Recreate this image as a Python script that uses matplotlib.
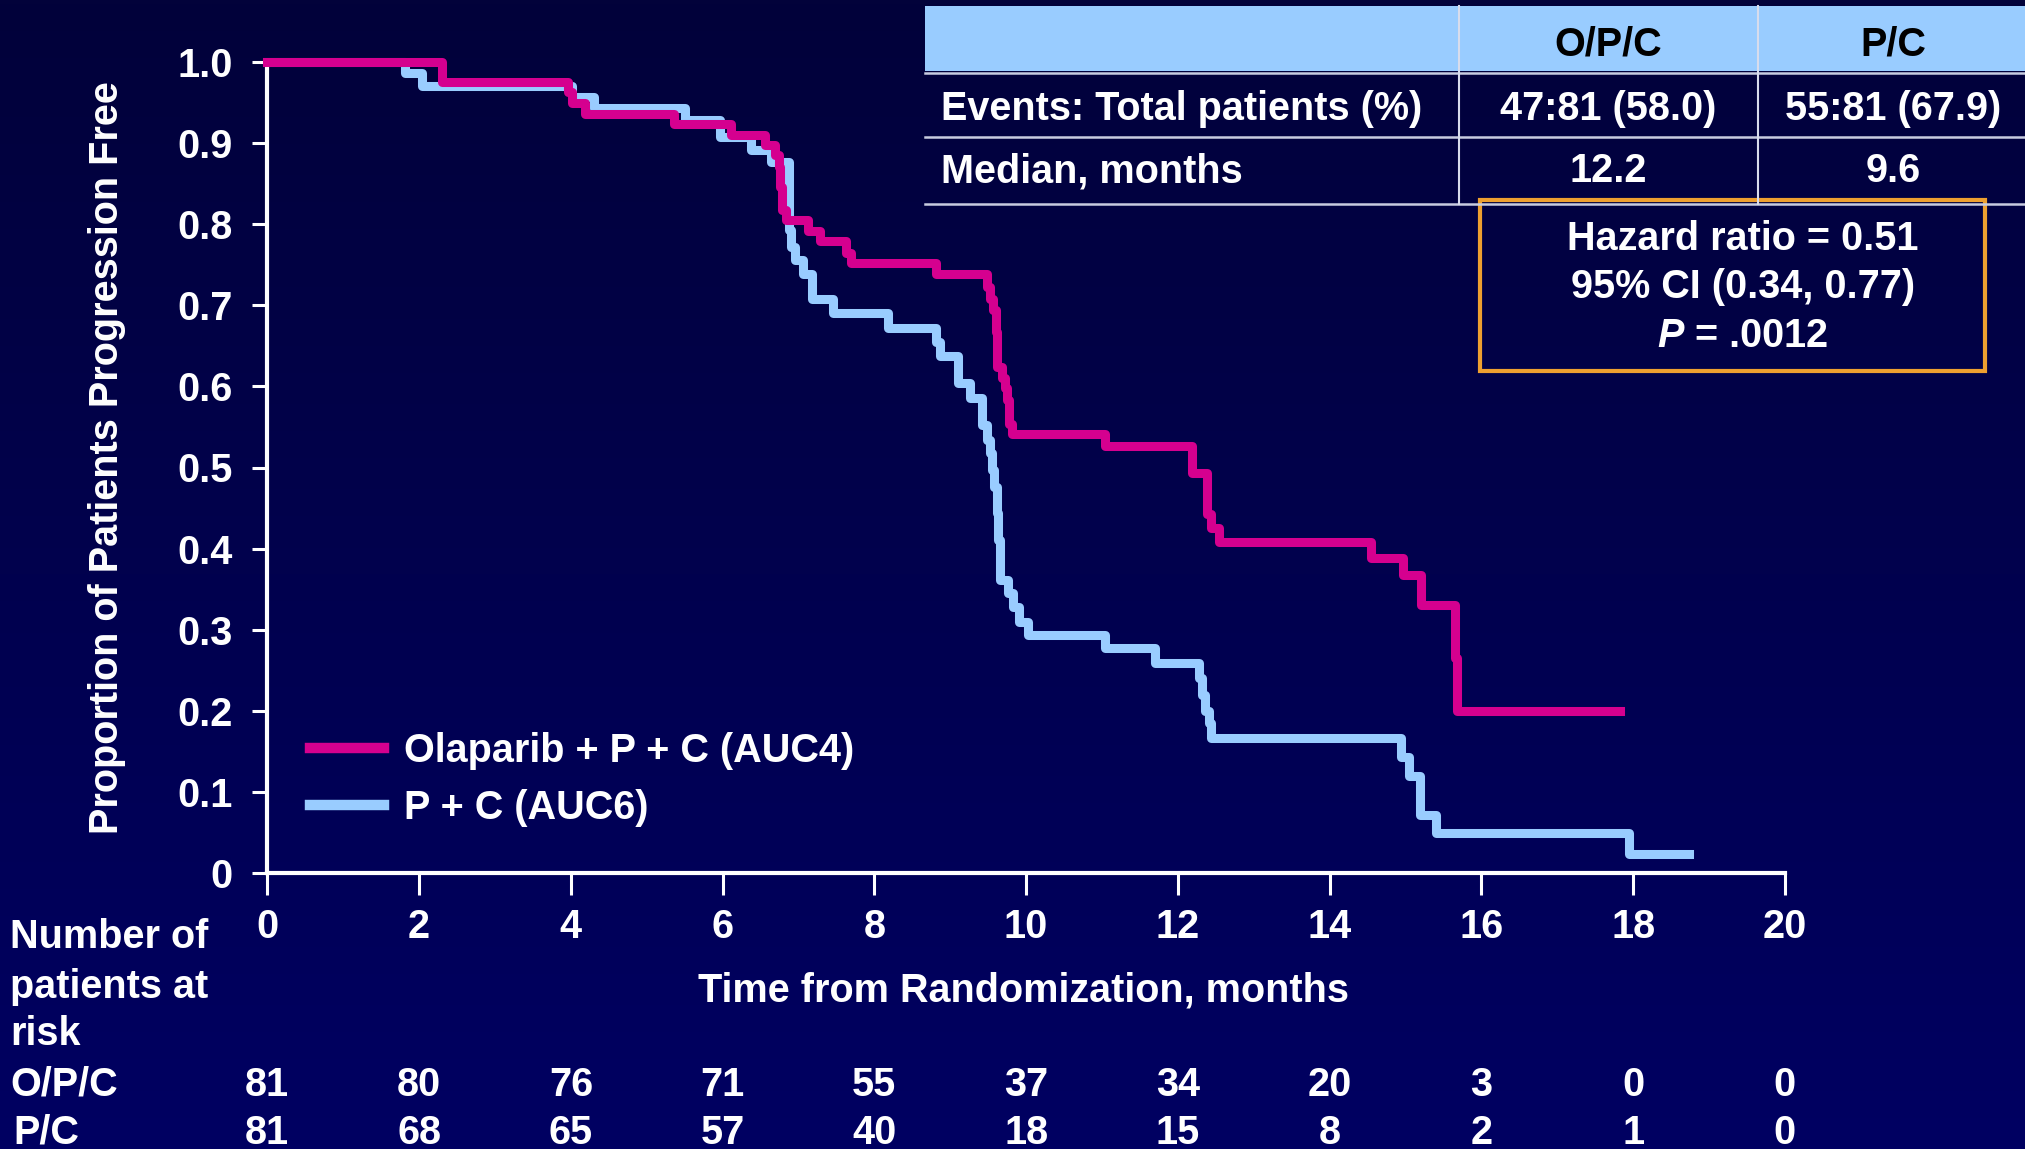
import numpy as np
import matplotlib
matplotlib.use("Agg")
import matplotlib.pyplot as plt
from matplotlib.colors import LinearSegmentedColormap
from matplotlib.patches import Rectangle
from matplotlib.lines import Line2D

plt.rcParams['font.family'] = ['Liberation Sans', 'DejaVu Sans']
plt.rcParams['font.weight'] = 'bold'
plt.rcParams['mathtext.fontset'] = 'custom'
plt.rcParams['mathtext.it'] = 'Liberation Sans:bold:italic'
plt.rcParams['mathtext.rm'] = 'Liberation Sans:bold'

# Kaplan-Meier steps (month the level starts, level)
opc_t = [0, 2.30, 3.96, 4.02, 4.19, 5.36, 6.11, 6.56, 6.69, 6.74, 6.76, 6.78, 6.84,
         7.13, 7.28, 7.63, 7.69, 8.81, 9.49, 9.53, 9.56, 9.60, 9.62, 9.68, 9.72,
         9.75, 9.77, 9.82, 11.04, 12.18, 12.38, 12.44, 12.54, 14.55, 14.97, 15.21,
         15.65, 15.68, 17.83]
opc_s = [1.0, 0.975, 0.963, 0.950, 0.936, 0.923, 0.910, 0.898, 0.885, 0.871, 0.846, 0.817, 0.805,
         0.792, 0.779, 0.765, 0.752, 0.738, 0.723, 0.708, 0.694, 0.667, 0.624, 0.610, 0.598,
         0.583, 0.554, 0.541, 0.526, 0.493, 0.443, 0.425, 0.408, 0.388, 0.367, 0.330,
         0.265, 0.200, 0.200]

pc_t = [0, 1.81, 2.04, 4.02, 4.30, 5.50, 5.97, 6.37, 6.64, 6.87, 6.88, 6.90, 6.96,
        7.06, 7.18, 7.46, 8.18, 8.81, 8.87, 9.10, 9.26, 9.42, 9.48, 9.52, 9.55,
        9.58, 9.61, 9.63, 9.66, 9.76, 9.83, 9.90, 10.02, 11.04, 11.70, 12.28, 12.32,
        12.36, 12.41, 12.44, 14.94, 15.04, 15.19, 15.40, 17.94, 18.74]
pc_s = [1.0, 0.986, 0.971, 0.957, 0.943, 0.928, 0.908, 0.892, 0.877, 0.810, 0.793, 0.772, 0.756,
        0.739, 0.708, 0.690, 0.672, 0.655, 0.637, 0.604, 0.586, 0.552, 0.534, 0.518, 0.497,
        0.476, 0.444, 0.411, 0.361, 0.345, 0.328, 0.310, 0.293, 0.278, 0.259, 0.240, 0.219,
        0.200, 0.185, 0.166, 0.143, 0.119, 0.072, 0.049, 0.024, 0.024]

risk_times = [0, 2, 4, 6, 8, 10, 12, 14, 16, 18, 20]
risk_opc = [81, 80, 76, 71, 55, 37, 34, 20, 3, 0, 0]
risk_pc = [81, 68, 65, 57, 40, 18, 15, 8, 2, 1, 0]

y_ticks = [0, 0.1, 0.2, 0.3, 0.4, 0.5, 0.6, 0.7, 0.8, 0.9, 1.0]
y_tick_labels = ['0', '0.1', '0.2', '0.3', '0.4', '0.5', '0.6', '0.7', '0.8', '0.9', '1.0']

table_cols = ['O/P/C', 'P/C']
table_rows = ['Events: Total patients (%)', 'Median, months']
table_vals = [['47:81 (58.0)', '55:81 (67.9)'], ['12.2', '9.6']]
stats_lines = ['Hazard ratio = 0.51', '95% CI (0.34, 0.77)', '$P$ = .0012']

magenta = '#D5008F'
lightblue = '#99CCFF'
W, H = 2025, 1149
FS = 28.5
CAP = 14  # half cap height in pixels, used to put text by its visual centre


def fx(x):
    return x / W


def fy(y):
    return 1 - y / H


def label(x, y, s, ha='center', color='white', **kw):
    # y is the visual centre of the capitals, in pixels from the top
    return fig.text(fx(x), fy(y + CAP), s, color=color, fontsize=FS, fontweight='bold',
                    ha=ha, va='baseline', **kw)


fig = plt.figure(figsize=(W / 100, H / 100), dpi=100)

# dark navy gradient background
bg = fig.add_axes([0, 0, 1, 1], zorder=-10)
cmap = LinearSegmentedColormap.from_list('bg', ['#02023A', '#000062'])
bg.imshow(np.linspace(0, 1, 256).reshape(-1, 1), aspect='auto', cmap=cmap,
          extent=[0, 1, 0, 1])
bg.axis('off')

ax = fig.add_axes([fx(267.3), fy(873), fx(1784.9) - fx(267.3), fy(62) - fy(873)])
ax.patch.set_alpha(0)
ax.step(opc_t, opc_s, where='post', color=magenta, lw=6.5, clip_on=False, zorder=4)
ax.step(pc_t, pc_s, where='post', color=lightblue, lw=6.5, clip_on=False, zorder=3)
ax.set_xlim(0, 20)
ax.set_ylim(0, 1)
for s in ['top', 'right']:
    ax.spines[s].set_visible(False)
for s in ['left', 'bottom']:
    ax.spines[s].set_color('white')
    ax.spines[s].set_linewidth(3)
ax.set_xticks(risk_times)
ax.set_yticks(y_ticks)
ax.set_yticklabels(y_tick_labels)
ax.tick_params(axis='x', colors='white', length=16, width=2.2, pad=9, labelsize=FS)
ax.tick_params(axis='y', colors='white', length=11, width=2.2, pad=14, labelsize=FS)
for lab in ax.get_xticklabels() + ax.get_yticklabels():
    lab.set_fontweight('bold')

fig.text(fx(107), fy(458), 'Proportion of Patients Progression Free', color='white',
         fontsize=FS, fontweight='bold', rotation=90, ha='center', va='center')
label(1024, 988, 'Time from Randomization, months')

# legend
for yy, col, lab in [(748, magenta, 'Olaparib + P + C (AUC4)'), (805, lightblue, 'P + C (AUC6)')]:
    fig.add_artist(Line2D([fx(310), fx(384)], [fy(yy), fy(yy)], color=col, lw=7.5,
                          transform=fig.transFigure))
    label(404, yy, lab, ha='left')

# number at risk
for yy, line in zip([934, 984, 1031], ['Number of', 'patients at', 'risk']):
    label(10, yy, line, ha='left')
label(10, 1082, 'O/P/C', ha='left')
label(13, 1130, 'P/C', ha='left')
for t, a, b in zip(risk_times, risk_opc, risk_pc):
    xx = 267.3 + t * 75.88
    label(xx, 1082, str(a))
    label(xx, 1130, str(b))

# summary table, top right
fig.add_artist(Rectangle((fx(925), fy(71)), 1 - fx(925), fy(6) - fy(71),
                         transform=fig.transFigure, facecolor=lightblue, edgecolor='none'))
for yy in [73, 137, 204]:
    fig.add_artist(Line2D([fx(925), 1], [fy(yy), fy(yy)], color='#C8CCE0', lw=1.8,
                          transform=fig.transFigure))
for xx in [1459, 1758]:
    fig.add_artist(Line2D([fx(xx), fx(xx)], [fy(6), fy(204)], color='#D8DCEC', lw=1.5,
                          transform=fig.transFigure))
col_x = [1608, 1893]
for cx, c in zip(col_x, table_cols):
    label(cx, 41, c, color='black')
for yy, row, vals in zip([106, 168], table_rows, table_vals):
    label(941, yy, row, ha='left')
    for cx, v in zip(col_x, vals):
        label(cx, yy, v)

# hazard ratio box
fig.add_artist(Rectangle((fx(1480), fy(371)), fx(1985) - fx(1480), fy(200) - fy(371),
                         transform=fig.transFigure, facecolor='none',
                         edgecolor='#EEA030', lw=3))
for yy, s in zip([236, 284, 333], stats_lines):
    label(1743, yy, s)

fig.savefig('out.png', dpi=100)
